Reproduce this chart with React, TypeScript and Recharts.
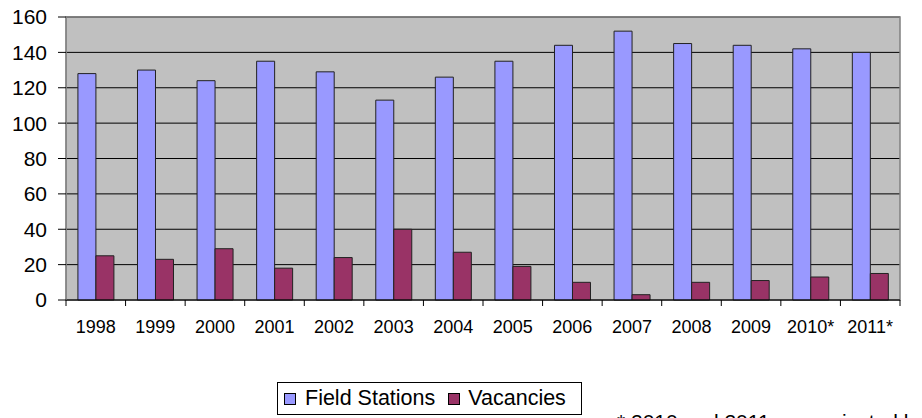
import React from 'react';
import { BarChart, Bar, XAxis, YAxis, CartesianGrid, ReferenceArea } from 'recharts';

const years = ['1998', '1999', '2000', '2001', '2002', '2003', '2004', '2005', '2006', '2007', '2008', '2009', '2010*', '2011*'];
const fieldStations = [128, 130, 124, 135, 129, 113, 126, 135, 144, 152, 145, 144, 142, 140];
const vacancies = [25, 23, 29, 18, 24, 40, 27, 19, 10, 3, 10, 11, 13, 15];
const yTicks = [0, 20, 40, 60, 80, 100, 120, 140, 160];

const data = years.map((year, i) => ({ year, fs: fieldStations[i], vac: vacancies[i] }));

const FONT = '"Liberation Sans", Arial, sans-serif';
const W = 922;
const H = 418;
const MARGIN = { top: 17, right: 22, bottom: 88, left: 6 };
const Y_AXIS_W = 60;
const TICK_SIZE = 6;
const TICK_MARGIN = 14;
const BAND = (W - MARGIN.left - MARGIN.right - Y_AXIS_W) / years.length;

// category label plus Excel-style tick marks on the category boundaries
const YearTick = (props: any) => {
  const { x, y, payload, index } = props;
  const axisY = y - TICK_SIZE - TICK_MARGIN;
  const left = x - BAND / 2;
  const right = x + BAND / 2;
  return (
    <g>
      <line x1={left} x2={left} y1={axisY} y2={axisY + 6} stroke="#000" />
      {index === years.length - 1 && <line x1={right} x2={right} y1={axisY} y2={axisY + 6} stroke="#000" />}
      <text x={x} y={y} dy="0.71em" textAnchor="middle" fill="#000" fontSize={18} fontFamily={FONT}>
        {payload.value}
      </text>
    </g>
  );
};

const LegendSwatch: React.FC<{ color: string }> = ({ color }) => (
  <span style={{ display: 'inline-block', width: 10, height: 10, background: color, border: '1px solid #000' }} />
);

export default function App() {
  return (
    <div style={{ position: 'absolute', left: 0, top: 0, width: W, height: H, background: '#fff', overflow: 'hidden', fontFamily: FONT }}>
      <BarChart
        width={W}
        height={H}
        data={data}
        margin={MARGIN}
        barCategoryGap="20%"
        barGap={0}
      >
        <CartesianGrid vertical={false} stroke="#000" fill="#C0C0C0" fillOpacity={1} />
        <XAxis
          dataKey="year"
          height={30}
          axisLine={{ stroke: '#000' }}
          tickLine={false}
          tickSize={TICK_SIZE}
          tickMargin={TICK_MARGIN}
          tick={<YearTick />}
          interval={0}
        />
        <YAxis
          domain={[0, 160]}
          ticks={yTicks}
          width={Y_AXIS_W}
          axisLine={{ stroke: '#808080' }}
          tickLine={{ stroke: '#000' }}
          tickSize={8}
          tickMargin={11}
          tick={{ fill: '#000', fontSize: 21, fontFamily: FONT }}
        />
        <ReferenceArea y1={0} y2={160} fill="none" stroke="#808080" strokeWidth={1.5} ifOverflow="visible" />
        <Bar dataKey="fs" name="Field Stations" fill="#9999FF" stroke="#222" strokeWidth={1} isAnimationActive={false} />
        <Bar dataKey="vac" name="Vacancies" fill="#993366" stroke="#222" strokeWidth={1} isAnimationActive={false} />
      </BarChart>
      <div
        style={{
          position: 'absolute', left: 277, top: 382, width: 305, height: 33, boxSizing: 'border-box',
          border: '1px solid #000', paddingLeft: 6, display: 'flex', alignItems: 'center',
          fontSize: 21.5, color: '#000', whiteSpace: 'nowrap',
        }}
      >
        <LegendSwatch color="#9999FF" />
        <span style={{ marginLeft: 9, marginRight: 13 }}>Field Stations</span>
        <LegendSwatch color="#993366" />
        <span style={{ marginLeft: 8 }}>Vacancies</span>
      </div>
      <div style={{ position: 'absolute', left: 617, top: 410, fontSize: 21, color: '#000', whiteSpace: 'nowrap' }}>
        * 2010 and 2011 are projected levels
      </div>
    </div>
  );
}
